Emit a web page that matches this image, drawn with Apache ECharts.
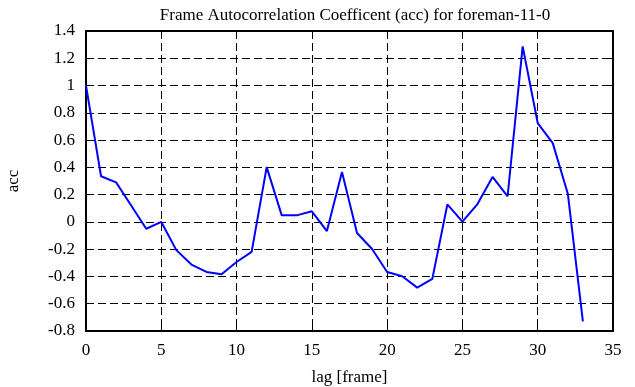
<!DOCTYPE html>
<html lang="en">
<head>
    <meta charset="UTF-8">
    <script src="https://cdn.jsdelivr.net/npm/echarts@6/dist/echarts.min.js"></script>
    <title>acc</title>
</head>
<body style="margin:0;">
<div id="container" style="width:635px;height:387px;"></div>
<script>
    // lag in frames and the autocorrelation
    let lags = [0, 1, 2, 3, 4, 5, 6, 7, 8, 9, 10, 11, 12, 13, 14, 15, 16,
        17, 18, 19, 20, 21, 22, 23, 24, 25, 26, 27, 28, 29, 30, 31, 32, 33];
    let acc = [1.0, 0.335, 0.29, 0.12, -0.05, 0.0, -0.207, -0.313, -0.367, -0.384,
        -0.294, -0.22, 0.402, 0.048, 0.048, 0.078, -0.067, 0.366, -0.081, -0.199,
        -0.367, -0.399, -0.482, -0.418, 0.128, 0.002, 0.131, 0.33, 0.188, 1.287,
        0.725, 0.578, 0.207, -0.729];

    let font = 'Liberation Serif';
    let myChart = echarts.init(document.getElementById('container'));
    let box = {show: true, onZero: false, lineStyle: {color: '#000', width: 2}};
    let tick = {show: true, inside: true, length: 6, lineStyle: {color: '#000'}};
    let dashed = {show: true, lineStyle: {color: '#000', type: [8, 4], width: 1}};

    let option = {
        animation: false,
        title: {
            text: 'Frame Autocorrelation Coefficent (acc) for foreman-11-0',
            left: 350, textAlign: 'center', top: 2,
            textStyle: {fontFamily: font, fontWeight: 'normal', fontSize: 17, color: '#000'}
        },
        grid: {left: 86, right: 22, top: 31, bottom: 56, outerBoundsMode: 'none'},
        xAxis: [{
            type: 'value', min: 0, max: 35, interval: 5,
            name: 'lag [frame]', nameLocation: 'middle', nameGap: 38,
            nameTextStyle: {fontFamily: font, fontSize: 17, color: '#000'},
            axisLine: box, axisTick: tick, splitLine: dashed,
            axisLabel: {fontFamily: font, fontSize: 17, color: '#000', margin: 11}
        }, {
            type: 'value', position: 'top', min: 0, max: 35, interval: 5,
            axisLine: box, axisTick: tick, axisLabel: {show: false}, splitLine: {show: false}
        }],
        yAxis: [{
            type: 'value', min: -0.8, max: 1.4, interval: 0.2,
            name: 'acc', nameLocation: 'middle', nameGap: 64, nameRotate: 90,
            nameTextStyle: {fontFamily: font, fontSize: 17, color: '#000'},
            axisLine: box, axisTick: tick, splitLine: dashed,
            axisLabel: {fontFamily: font, fontSize: 17, color: '#000', margin: 11,
                formatter: function (v) { return String(Math.round(v * 10) / 10); }}
        }, {
            type: 'value', position: 'right', min: -0.8, max: 1.4, interval: 0.2,
            axisLine: box, axisTick: tick, axisLabel: {show: false}, splitLine: {show: false}
        }],
        series: [{
            type: 'line',
            data: lags.map(function (l, i) { return [l, acc[i]]; }),
            showSymbol: false,
            lineStyle: {color: '#0000ff', width: 2},
            itemStyle: {color: '#0000ff'}
        }]
    };
    myChart.setOption(option);
</script>
</body>
</html>
